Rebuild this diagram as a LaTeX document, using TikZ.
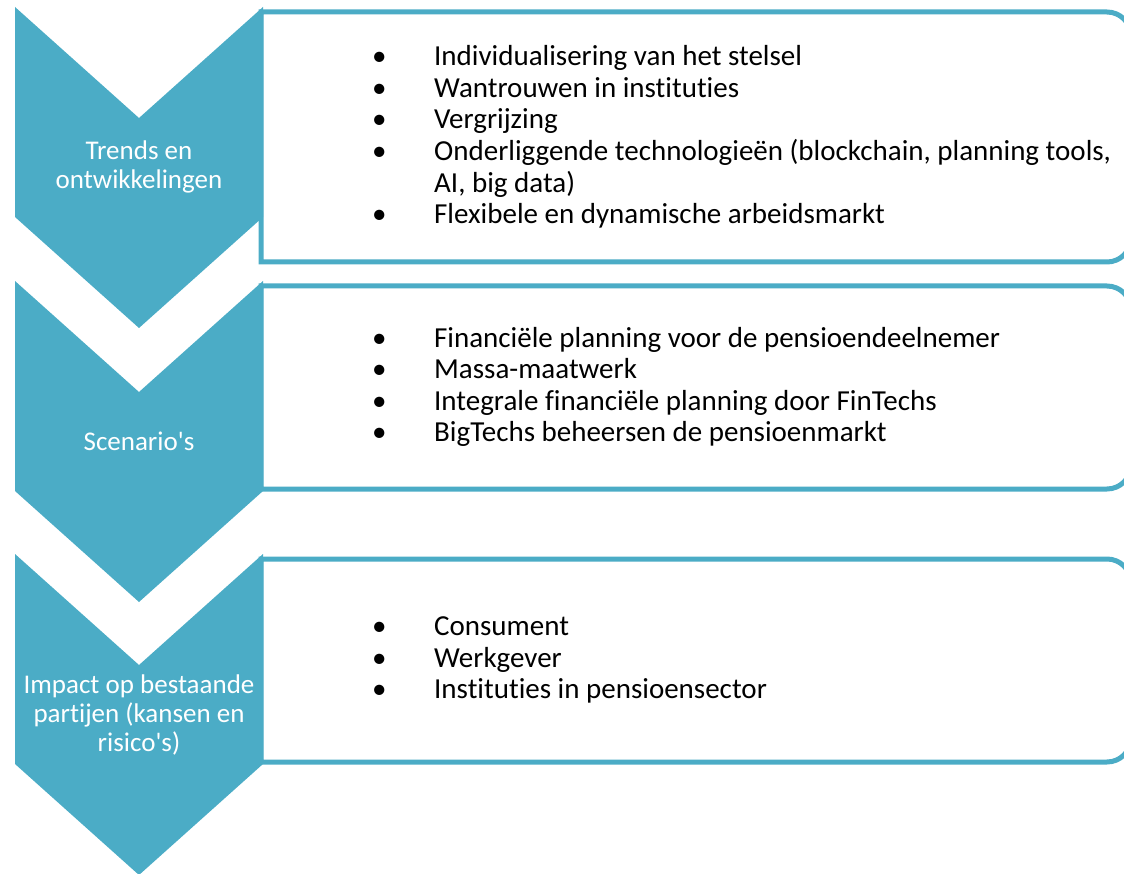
\documentclass[tikz,border=0pt]{standalone}
\usepackage{fontspec}
\setmainfont{Carlito}[Ligatures=NoCommon]
\definecolor{aqua}{RGB}{75,172,198}
\newcommand{\itm}[1]{\makebox[62pt][l]{\textbullet}#1}
\begin{document}
\begin{tikzpicture}[x=1pt,y=-1pt,
    chevron/.style={fill=aqua},
    steplabel/.style={text=white,align=center,font=\fontsize{27}{29}\selectfont},
    listframe/.style={draw=aqua,line width=5pt,fill=white},
    listtext/.style={anchor=west,align=left,inner sep=0pt,font=\fontsize{29}{31.6}\selectfont}]
  \useasboundingbox (0,0) rectangle (1124,874);
  % frames on the right
  \coordinate (b1sw) at (261,262);
  \coordinate (b1nw) at (261,12);
  \coordinate (b1ne) at (1131,12);
  \coordinate (b1se) at (1131,262);
  \coordinate (b2sw) at (261,489);
  \coordinate (b2nw) at (261,286);
  \coordinate (b2ne) at (1131,286);
  \coordinate (b2se) at (1131,489);
  \coordinate (b3sw) at (261,762);
  \coordinate (b3nw) at (261,559);
  \coordinate (b3ne) at (1131,559);
  \coordinate (b3se) at (1131,762);
  \draw[listframe] (b1sw) -- (b1nw) [rounded corners=24pt] -- (b1ne) -- (b1se) [sharp corners] -- cycle;
  \draw[listframe] (b2sw) -- (b2nw) [rounded corners=24pt] -- (b2ne) -- (b2se) [sharp corners] -- cycle;
  \draw[listframe] (b3sw) -- (b3nw) [rounded corners=24pt] -- (b3ne) -- (b3se) [sharp corners] -- cycle;
  % chevrons on the left
  \foreach \dy in {0,274,547}
    \fill[chevron] (15,7+\dy) -- (139,118+\dy) -- (263,7+\dy) -- (263,217+\dy)
      -- (139,328+\dy) -- (15,217+\dy) -- cycle;
  \node[steplabel] (trends) at (139,167) {Trends en\\ontwikkelingen};
  \node[steplabel] (scenarios) at (139,441) {Scenario\textquotesingle s};
  \node[steplabel] (impact) at (139,715) {Impact op bestaande\\partijen (kansen en\\risico\textquotesingle s)};
  % lists
  \node[listtext] (trendlist) at (372,137) {%
    \itm{Individualisering van het stelsel}\\
    \itm{Wantrouwen in instituties}\\
    \itm{Vergrijzing}\\
    \itm{Onderliggende technologieën (blockchain, planning tools,}\\
    \hspace*{62pt}AI, big data)\\
    \itm{Flexibele en dynamische arbeidsmarkt}};
  \node[listtext] (scenlist) at (372,387) {%
    \itm{Financiële planning voor de pensioendeelnemer}\\
    \itm{Massa-maatwerk}\\
    \itm{Integrale financiële planning door FinTechs}\\
    \itm{BigTechs beheersen de pensioenmarkt}};
  \node[listtext] (impactlist) at (372,660) {%
    \itm{Consument}\\
    \itm{Werkgever}\\
    \itm{Instituties in pensioensector}};
\end{tikzpicture}
\end{document}
